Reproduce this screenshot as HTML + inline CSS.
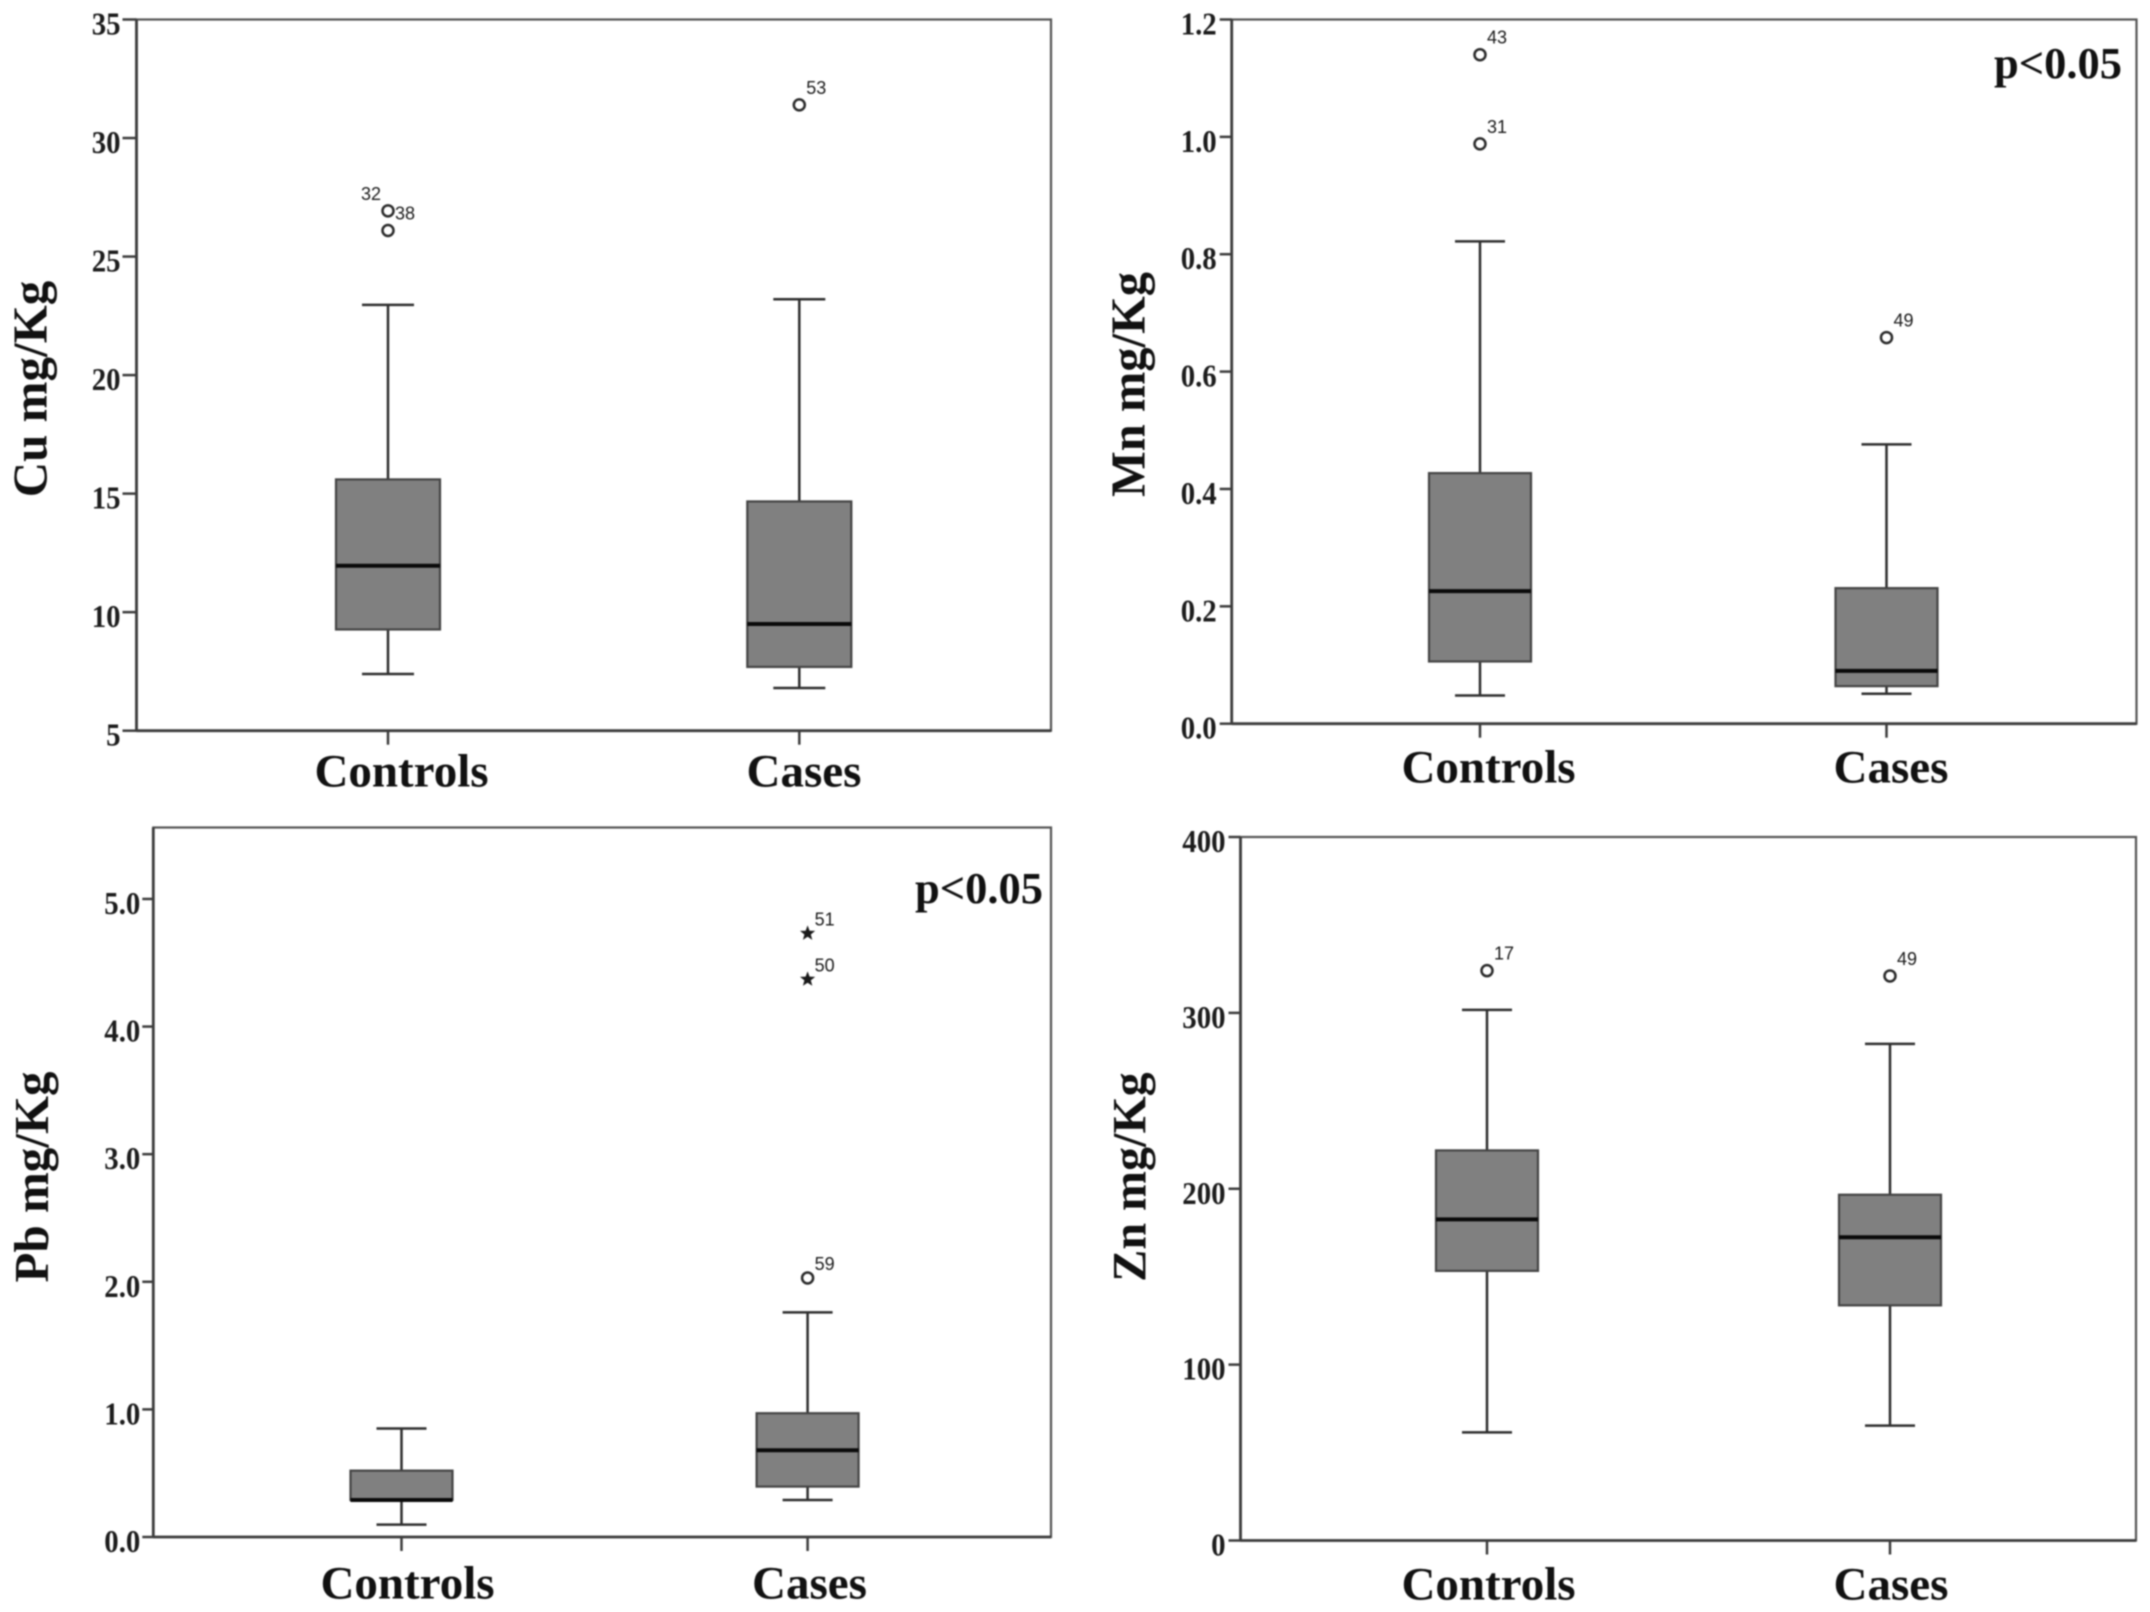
<!DOCTYPE html>
<html lang="en">
<head>
<meta charset="utf-8">
<title>Cu, Mn, Pb and Zn box plots: Controls vs Cases</title>
<style>
  html, body { margin: 0; padding: 0; background: #fff; }
  #figure { display: block; width: 2150px; height: 1612px; filter: blur(0.8px); }
  .tick-label { font-family: "Liberation Serif", serif; font-weight: 700; font-size: 32px; fill: #1c1c1c; }
  .cat-label { font-family: "Liberation Serif", serif; font-weight: 700; font-size: 47px; fill: #111; }
  .y-title { font-family: "Liberation Serif", serif; font-weight: 700; fill: #111; -webkit-text-stroke: 0.5px #111; }
  .p-note { font-family: "Liberation Serif", serif; font-weight: 700; font-size: 44.5px; fill: #111; }
  .out-label { font-family: "Liberation Sans", sans-serif; font-size: 18px; fill: #1a1a1a; -webkit-text-stroke: 0.6px #1a1a1a; }
</style>
</head>
<body>
<svg id="figure" xmlns="http://www.w3.org/2000/svg" viewBox="0 0 2150 1612" width="2150" height="1612"></svg>
<script>
// ---------- data ----------
const categories = ['Controls', 'Cases'];

const cuTickLabels = ['5', '10', '15', '20', '25', '30', '35'];
const cuWhiskerHigh = [22.96, 23.2];
const cuQ3 = [15.6, 14.67];
const cuMedian = [11.96, 9.5];
const cuQ1 = [9.27, 7.69];
const cuWhiskerLow = [7.39, 6.8];
const cuOutlierGroups = [0, 0, 1];
const cuOutlierValues = [26.93, 26.1, 31.4];
const cuOutlierLabels = ['32', '38', '53'];
const cuOutlierMarkers = ['circle', 'circle', 'circle'];
const cuOutlierSides = ['left', 'right', 'right'];

const mnTickLabels = ['0.0', '0.2', '0.4', '0.6', '0.8', '1.0', '1.2'];
const mnWhiskerHigh = [0.822, 0.476];
const mnQ3 = [0.427, 0.231];
const mnMedian = [0.226, 0.09];
const mnQ1 = [0.106, 0.064];
const mnWhiskerLow = [0.048, 0.051];
const mnOutlierGroups = [0, 0, 1];
const mnOutlierValues = [1.14, 0.988, 0.658];
const mnOutlierLabels = ['43', '31', '49'];
const mnOutlierMarkers = ['circle', 'circle', 'circle'];
const mnOutlierSides = ['right', 'right', 'right'];

const pbTickLabels = ['0.0', '1.0', '2.0', '3.0', '4.0', '5.0'];
const pbWhiskerHigh = [0.85, 1.76];
const pbQ3 = [0.52, 0.97];
const pbMedian = [0.29, 0.68];
const pbQ1 = [0.29, 0.395];
const pbWhiskerLow = [0.097, 0.29];
const pbOutlierGroups = [1, 1, 1];
const pbOutlierValues = [4.73, 4.37, 2.03];
const pbOutlierLabels = ['51', '50', '59'];
const pbOutlierMarkers = ['star', 'star', 'circle'];
const pbOutlierSides = ['right', 'right', 'right'];

const znTickLabels = ['0', '100', '200', '300', '400'];
const znWhiskerHigh = [301.7, 282.4];
const znQ3 = [221.8, 196.6];
const znMedian = [182.6, 172.4];
const znQ1 = [153.3, 133.7];
const znWhiskerLow = [61.5, 65.3];
const znOutlierGroups = [0, 1];
const znOutlierValues = [324, 321];
const znOutlierLabels = ['17', '49'];
const znOutlierMarkers = ['circle', 'circle'];
const znOutlierSides = ['right', 'right'];

// ---------- layout ----------
const panels = [
  { id: 'cu', title: 'Cu mg/Kg', left: 136.5, right: 1051, top: 19.5, bottom: 730.7, yMin: 5, yMax: 35,
    catX: [388, 799.3], catLabelX: [401.5, 804], catLabelY: 786.5, titleX: 46.5, titleY: 389, titleSize: 49,
    tickGap: 16, tickLen: 14, tickDy: 15, labelDy: -11, boxHalf: 52, capHalf: 26, note: null,
    ticks: cuTickLabels, hi: cuWhiskerHigh, q3: cuQ3, med: cuMedian, q1: cuQ1, lo: cuWhiskerLow,
    og: cuOutlierGroups, ov: cuOutlierValues, ol: cuOutlierLabels, om: cuOutlierMarkers, os: cuOutlierSides },
  { id: 'mn', title: 'Mn mg/Kg', left: 1231.7, right: 2136.5, top: 19.5, bottom: 723.7, yMin: 0, yMax: 1.2,
    catX: [1480, 1886.5], catLabelX: [1488.5, 1891], catLabelY: 782.5, titleX: 1144.5, titleY: 384.5, titleSize: 48.5,
    tickGap: 15, tickLen: 12, tickDy: 15, labelDy: -11, boxHalf: 51, capHalf: 25, note: { text: 'p<0.05', x: 1994, y: 78 },
    ticks: mnTickLabels, hi: mnWhiskerHigh, q3: mnQ3, med: mnMedian, q1: mnQ1, lo: mnWhiskerLow,
    og: mnOutlierGroups, ov: mnOutlierValues, ol: mnOutlierLabels, om: mnOutlierMarkers, os: mnOutlierSides },
  { id: 'pb', title: 'Pb mg/Kg', left: 153.3, right: 1051, top: 827.5, bottom: 1537, yMin: 0, yMax: 5.56,
    catX: [401.5, 807.6], catLabelX: [407.5, 809.5], catLabelY: 1598.5, titleX: 48, titleY: 1177, titleSize: 49,
    tickGap: 13, tickLen: 11, tickDy: 15, labelDy: -8, boxHalf: 51, capHalf: 25, note: { text: 'p<0.05', x: 915, y: 903 },
    ticks: pbTickLabels, hi: pbWhiskerHigh, q3: pbQ3, med: pbMedian, q1: pbQ1, lo: pbWhiskerLow,
    og: pbOutlierGroups, ov: pbOutlierValues, ol: pbOutlierLabels, om: pbOutlierMarkers, os: pbOutlierSides },
  { id: 'zn', title: 'Zn mg/Kg', left: 1240.5, right: 2136, top: 837, bottom: 1540.5, yMin: 0, yMax: 400,
    catX: [1487, 1890], catLabelX: [1488.5, 1891], catLabelY: 1599.5, titleX: 1145.5, titleY: 1177, titleSize: 48,
    tickGap: 15, tickLen: 12, tickDy: 15, labelDy: -11, boxHalf: 51, capHalf: 25, note: null,
    ticks: znTickLabels, hi: znWhiskerHigh, q3: znQ3, med: znMedian, q1: znQ1, lo: znWhiskerLow,
    og: znOutlierGroups, ov: znOutlierValues, ol: znOutlierLabels, om: znOutlierMarkers, os: znOutlierSides }
];

// ---------- drawing ----------
const SVG_NS = 'http://www.w3.org/2000/svg';
const figure = document.getElementById('figure');

function make(parent, tag, attrs, text) {
  const el = document.createElementNS(SVG_NS, tag);
  for (const k in attrs) el.setAttribute(k, attrs[k]);
  if (text !== undefined) el.textContent = text;
  parent.appendChild(el);
  return el;
}

function linePath(parent, x1, y1, x2, y2, color, width) {
  return make(parent, 'line', { x1: x1, y1: y1, x2: x2, y2: y2, stroke: color, 'stroke-width': width });
}

function starPoints(cx, cy, r) {
  const pts = [];
  for (let i = 0; i < 10; i++) {
    const rad = i % 2 === 0 ? r : r * 0.42;
    const a = -Math.PI / 2 + i * Math.PI / 5;
    pts.push((cx + rad * Math.cos(a)).toFixed(1) + ',' + (cy + rad * Math.sin(a)).toFixed(1));
  }
  return pts.join(' ');
}

panels.forEach(function (p) {
  const y = function (v) { return p.bottom - (v - p.yMin) / (p.yMax - p.yMin) * (p.bottom - p.top); };

  const g = make(figure, 'g', {});
  
  

  const frame = make(g, 'rect', { x: p.left, y: p.top, width: p.right - p.left, height: p.bottom - p.top, fill: '#fff', stroke: '#555', 'stroke-width': 2.2 });
  
  

  const yAxis = linePath(g, p.left, p.top, p.left, p.bottom, '#3c3c3c', 2.8);
  
  

  const xAxis = linePath(g, p.left, p.bottom, p.right, p.bottom, '#3c3c3c', 2.8);
  
  

  p.ticks.forEach(function (label) {
    const ty = y(Number(label));
    const tick = linePath(g, p.left - p.tickLen, ty, p.left, ty, '#3c3c3c', 2.5);
    
    
    const tl = make(g, 'text', { class: 'tick-label', 'text-anchor': 'end', transform: 'translate(' + (p.left - p.tickGap) + ',' + (ty + p.tickDy) + ') scale(0.9,1)' }, label);
    
    
  });

  const title = make(g, 'text', { class: 'y-title', 'font-size': p.titleSize, 'text-anchor': 'middle', transform: 'translate(' + p.titleX + ',' + p.titleY + ') rotate(-90)' }, p.title);
  
  

  if (p.note) {
    const note = make(g, 'text', { class: 'p-note', x: p.note.x, y: p.note.y }, p.note.text);
    
    
  }

  categories.forEach(function (cat, i) {
    const cx = p.catX[i];
    const tick = linePath(g, cx, p.bottom, cx, p.bottom + 14, '#3c3c3c', 2.5);
    
    

    const cl = make(g, 'text', { class: 'cat-label', x: p.catLabelX[i], y: p.catLabelY, 'text-anchor': 'middle' }, cat);
    
    

    const whisker = linePath(g, cx, y(p.hi[i]), cx, y(p.lo[i]), '#2e2e2e', 2.5);
    
    

    const capHi = linePath(g, cx - p.capHalf, y(p.hi[i]), cx + p.capHalf, y(p.hi[i]), '#2e2e2e', 2.5);
    
    

    const capLo = linePath(g, cx - p.capHalf, y(p.lo[i]), cx + p.capHalf, y(p.lo[i]), '#2e2e2e', 2.5);
    
    

    const box = make(g, 'rect', { x: cx - p.boxHalf, y: y(p.q3[i]), width: p.boxHalf * 2, height: y(p.q1[i]) - y(p.q3[i]), fill: '#808080', stroke: '#444', 'stroke-width': 2.2 });
    
    

    const median = linePath(g, cx - p.boxHalf, y(p.med[i]), cx + p.boxHalf, y(p.med[i]), '#0a0a0a', 4);
    
    
  });

  p.ov.forEach(function (value, j) {
    const cx = p.catX[p.og[j]];
    const cy = y(value);
    let mark;
    if (p.om[j] === 'star') {
      mark = make(g, 'polygon', { points: starPoints(cx, cy, 8), fill: '#1a1a1a' });
    } else {
      mark = make(g, 'circle', { cx: cx, cy: cy, r: 5.5, fill: '#fff', stroke: '#2a2a2a', 'stroke-width': 2.5 });
    }
    
    

    const onLeft = p.os[j] === 'left';
    const lbl = make(g, 'text', {
      class: 'out-label',
      x: onLeft ? cx - 7 : cx + 7,
      y: cy + p.labelDy,
      'text-anchor': onLeft ? 'end' : 'start'
    }, p.ol[j]);
    
    
  });
});
</script>
</body>
</html>
